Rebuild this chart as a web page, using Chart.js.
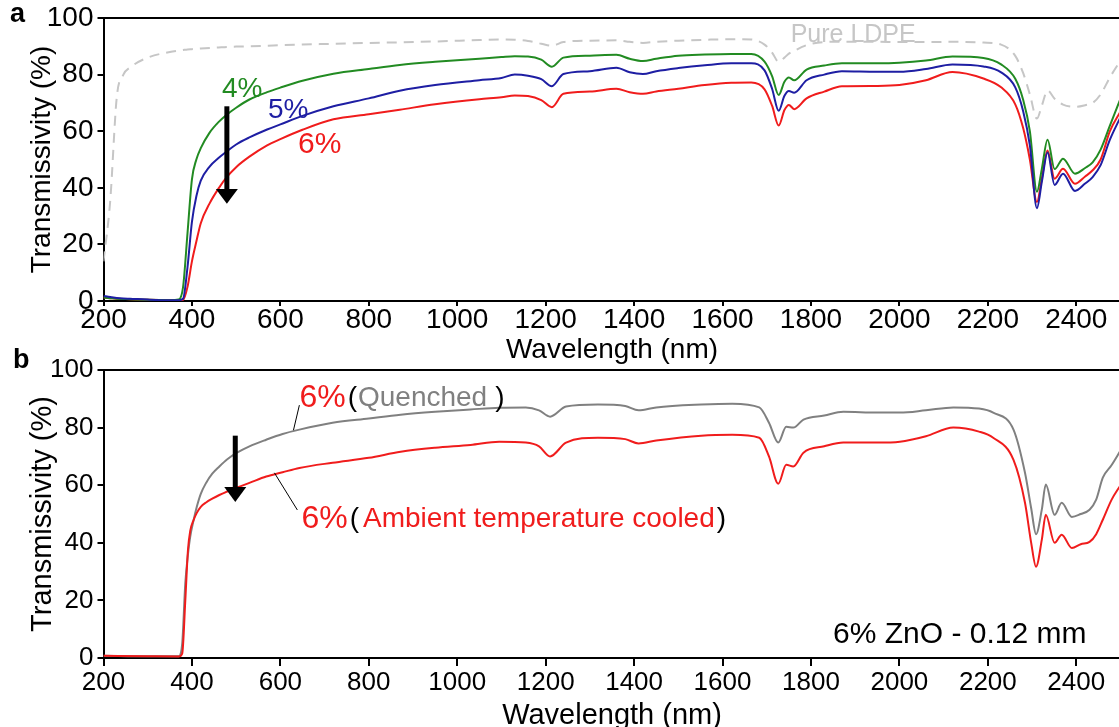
<!DOCTYPE html>
<html>
<head>
<meta charset="utf-8">
<title>Transmissivity of ZnO / LDPE films</title>
<script src="https://cdn.jsdelivr.net/npm/chart.js@4.4.1/dist/chart.umd.min.js"></script>
<style>
  html, body { margin: 0; padding: 0; background: #fff; overflow: hidden; }
  body { width: 1119px; height: 727px; position: relative; }
  canvas { position: absolute; left: 0; }
  #panelA { top: 0; }
  #panelB { top: 345px; }
</style>
</head>
<body>
<canvas id="panelA" width="1124" height="370"></canvas>
<canvas id="panelB" width="1124" height="385"></canvas>
<script>
(function () {
  'use strict';

  const xTicks = [200, 400, 600, 800, 1000, 1200, 1400, 1600, 1800, 2000, 2200, 2400];
  const yTicks = [0, 20, 40, 60, 80, 100];

  // (a) ZnO loading series
  const waveA = [200, 215, 230, 245, 260, 300, 350, 370, 380, 390,
    400, 410, 420, 440, 460, 480, 500, 530, 570, 600,
    650, 720, 800, 870, 950, 1050, 1100, 1130, 1160, 1190,
    1214, 1240, 1300, 1360, 1390, 1420, 1450, 1500, 1560, 1620,
    1665, 1695, 1712, 1727, 1740, 1750, 1762, 1790, 1830, 1870,
    1950, 2000, 2060, 2120, 2190, 2230, 2262, 2280, 2295, 2311,
    2322, 2335, 2351, 2370, 2397, 2420, 2437, 2455, 2476, 2500];
  const pureLdpe = [14, 35, 72, 80, 82.5, 86, 88, 88.5, 88.7, 88.9,
    89, 89.1, 89.2, 89.4, 89.6, 89.8, 89.9, 90, 90.2, 90.4,
    90.6, 90.9, 91.2, 91.4, 91.7, 92.2, 92.4, 92.3, 91.9, 90.9,
    90.2, 91.5, 92, 92.1, 91.6, 91.2, 91.6, 92, 92.3, 92.5,
    92.4, 90.6, 87.8, 84.5, 86, 87.4, 88.4, 90.4, 91.5, 91.6,
    91.6, 91.5, 91.5, 91.6, 91.3, 90.6, 86.6, 80.5, 73, 64.5,
    69, 74.4, 71.5, 69.4, 68.6, 69.2, 70, 73, 79, 85];
  const zno4 = [1.2, 1, 0.8, 0.7, 0.6, 0.4, 0.3, 0.5, 5, 24,
    43, 50, 54, 59.5, 63.2, 66, 68.3, 71.2, 73.8, 75.4,
    77.8, 80.3, 82, 83.4, 84.5, 85.6, 86.2, 86.5, 86.4, 85.3,
    82.8, 86, 86.7, 87, 85.6, 84.8, 85.6, 86.7, 87.1, 87.3,
    87.3, 84.6, 79.5, 72.8, 77.5, 79, 78, 81.8, 83.2, 84,
    84, 84.2, 85, 86.4, 85.9, 83.6, 78.5, 71, 60, 38.6,
    46.6, 57, 46.6, 50.3, 45, 47, 49, 53.5, 62, 71.5];
  const zno5 = [1.8, 1.4, 1.1, 0.9, 0.8, 0.5, 0.3, 0.3, 0.8, 12,
    28, 37, 42.5, 47.5, 50.5, 53, 55.3, 57.8, 60.6, 62.4,
    65.4, 68.8, 71.6, 74.3, 76.3, 78, 78.8, 80, 79.6, 78.4,
    75.9, 80.2, 81.2, 82.4, 80.8, 80.2, 81.2, 82.3, 83.3, 84,
    84, 81.5, 75, 67.2, 72.5, 74.2, 73.6, 78, 80, 81.2,
    81, 81, 82, 83.6, 82.9, 80.8, 75.5, 67, 55, 32.8,
    42, 52.5, 41, 45, 38.9, 41.5, 43.8, 48, 57, 65];
  const zno6 = [1.2, 1, 0.8, 0.7, 0.6, 0.4, 0.3, 0.2, 0.4, 5,
    14, 21, 27.5, 34.5, 39.7, 44, 47.3, 51, 55, 57.2,
    60.5, 64.2, 66, 67.6, 69.5, 71.3, 72, 72.6, 72.4, 71,
    68.5, 73.2, 74, 75, 73.8, 73.2, 74, 75, 76.3, 77.1,
    77.2, 74.8, 69, 62, 67.5, 69.3, 67.8, 71.6, 74, 75.9,
    76, 76.3, 78, 80.9, 78.6, 75.5, 69.5, 61, 50, 35,
    43.2, 53.2, 43.2, 46.7, 41.4, 44, 46.2, 50, 60, 67];

  // (b) 6% ZnO, 0.12 mm: quenched vs. ambient cooled
  const waveB = [200, 300, 370, 378, 385, 391, 396, 404, 411, 420,
    432, 446, 462, 480, 502, 530, 568, 605, 643, 718,
    800, 872, 950, 1030, 1095, 1155, 1185, 1210, 1246, 1318,
    1380, 1410, 1450, 1552, 1622, 1683, 1705, 1726, 1744, 1760,
    1783, 1830, 1873, 1950, 2001, 2060, 2122, 2180, 2212, 2258,
    2284, 2298, 2309, 2322, 2331, 2351, 2367, 2390, 2410, 2430,
    2445, 2460, 2480, 2500];
  const quenched = [0.8, 0.6, 0.6, 5, 26, 36, 42, 48, 52.5, 57,
    60.8, 64, 66.5, 69, 71.3, 73.5, 75.8, 77.8, 79.3, 81.7,
    83.2, 84.5, 85.5, 86.3, 86.9, 87, 86, 83.8, 87.3, 88,
    87.5, 86, 87, 88, 88.3, 87, 81.7, 74.8, 80.3, 80,
    82.8, 84.2, 85.5, 85.2, 85.2, 86, 87, 86.6, 85.2, 79.3,
    64.3, 52, 43, 51.5, 60.2, 49.7, 53.9, 49, 50, 51.5,
    55, 62.6, 67, 72];
  const ambient = [0.8, 0.6, 0.5, 1.5, 20, 37.5, 44, 48, 50.4, 52.5,
    54, 55.3, 56.6, 57.8, 59.2, 60.8, 63, 64.5, 66, 67.8,
    69.5, 71.6, 73, 74, 75.1, 74.8, 73.5, 70, 74.8, 76.5,
    76, 74.5, 75.5, 77.2, 77.5, 76.5, 70, 60.5, 67.1, 66.5,
    71.3, 73.5, 74.8, 74.8, 75.1, 77, 80, 78.6, 76.5, 68.8,
    53.9, 40, 31.7, 41, 49.7, 40, 42.8, 38.2, 39.5, 40.3,
    43, 48, 55, 60];

  const FONT = "'Liberation Sans', Arial, sans-serif";
  const GREEN = '#228b22';
  const BLUE = '#1e1ea3';
  const RED = '#f01c1c';
  const GREY = '#808080';
  const LIGHT = '#c6c6c6';

  function points(xs, ys) {
    return xs.map((x, i) => ({ x: x, y: ys[i] }));
  }

  function series(label, xs, ys, color, dash) {
    return {
      label: label,
      data: points(xs, ys),
      borderColor: color,
      borderWidth: 2,
      borderDash: dash || [],
      pointRadius: 0,
      fill: false,
      tension: 0.35,
      cubicInterpolationMode: 'monotone'
    };
  }

  // text, arrows and leader lines placed in data coordinates
  const notesPlugin = {
    id: 'notes',
    afterDatasetsDraw(chart, args, opts) {
      const ctx = chart.ctx;
      const sx = chart.scales.x;
      const sy = chart.scales.y;
      const px = v => sx.getPixelForValue(v);
      const py = v => sy.getPixelForValue(v);
      ctx.save();

      (opts.leaders || []).forEach(l => {
        ctx.strokeStyle = '#000';
        ctx.lineWidth = 1;
        ctx.beginPath();
        ctx.moveTo(px(l.from[0]), py(l.from[1]));
        ctx.lineTo(px(l.to[0]), py(l.to[1]));
        ctx.stroke();
      });

      (opts.arrows || []).forEach(a => {
        const x = px(a.x);
        const top = py(a.top);
        const base = py(a.base);
        const tip = py(a.tip);
        ctx.strokeStyle = '#000';
        ctx.fillStyle = '#000';
        ctx.lineWidth = 5;
        ctx.beginPath();
        ctx.moveTo(x, top);
        ctx.lineTo(x, base + 1);
        ctx.stroke();
        ctx.beginPath();
        ctx.moveTo(x - 11, base);
        ctx.lineTo(x + 11, base);
        ctx.lineTo(x, tip);
        ctx.closePath();
        ctx.fill();
      });

      ctx.textBaseline = 'middle';
      ctx.textAlign = 'left';
      (opts.labels || []).forEach(l => {
        let x = px(l.at[0]);
        const y = py(l.at[1]);
        l.parts.forEach(p => {
          ctx.font = p.size + 'px ' + FONT;
          ctx.fillStyle = p.color;
          ctx.fillText(p.text, x, y);
          x += ctx.measureText(p.text).width + (p.gap || 0);
        });
      });

      if (opts.panel) {
        ctx.font = 'bold 27px ' + FONT;
        ctx.fillStyle = '#000';
        ctx.textBaseline = 'alphabetic';
        ctx.fillText(opts.panel.text, opts.panel.x, opts.panel.y);
      }
      ctx.restore();
    }
  };

  function makeOptions(cfg) {
    return {
      responsive: false,
      devicePixelRatio: 1,
      animation: false,
      events: [],
      layout: { padding: { top: cfg.top, right: 3.5, bottom: 0, left: 0 } },
      plugins: {
        legend: { display: false },
        tooltip: { enabled: false },
        notes: cfg.notes
      },
      scales: {
        x: {
          type: 'linear',
          position: 'bottom',
          min: 200,
          max: 2500,
          afterBuildTicks: s => { s.ticks = xTicks.map(v => ({ value: v })); },
          afterFit: s => { s.height = cfg.xHeight; },
          border: { display: true, color: '#000', width: 2 },
          grid: { drawOnChartArea: false, drawTicks: true, tickLength: cfg.xTick, color: '#000', lineWidth: 2 },
          ticks: {
            autoSkip: false,
            maxRotation: 0,
            padding: cfg.xPad,
            color: '#000',
            font: { family: FONT, size: cfg.tickSize, lineHeight: 1 },
            callback: v => String(v)
          },
          title: {
            display: true,
            text: 'Wavelength (nm)',
            color: '#000',
            font: { family: FONT, size: cfg.titleSize, lineHeight: 1 },
            padding: { top: 0, bottom: cfg.xTitlePad }
          }
        },
        top: {
          type: 'linear',
          position: 'top',
          min: 200,
          max: 2500,
          afterFit: s => { s.height = 0; },
          border: { display: true, color: '#000', width: 2 },
          grid: { drawOnChartArea: false, drawTicks: false },
          ticks: { display: false }
        },
        y: {
          min: 0,
          max: 100,
          afterBuildTicks: s => { s.ticks = yTicks.map(v => ({ value: v })); },
          afterFit: s => { s.width = 103.5; },
          border: { display: true, color: '#000', width: 2 },
          grid: { drawOnChartArea: false, drawTicks: true, tickLength: 6, color: '#000', lineWidth: 2 },
          ticks: {
            padding: 4,
            color: '#000',
            font: { family: FONT, size: cfg.tickSize, lineHeight: 1 },
            callback: v => String(v)
          },
          title: {
            display: true,
            text: 'Transmissivity (%)',
            color: '#000',
            font: { family: FONT, size: cfg.titleSize, lineHeight: 1 },
            padding: { top: 28, bottom: 0 }
          }
        }
      }
    };
  }

  new Chart(document.getElementById('panelA'), {
    type: 'line',
    data: {
      datasets: [
        series('5%', waveA, zno5, BLUE),
        series('4%', waveA, zno4, GREEN),
        series('6%', waveA, zno6, RED),
        series('Pure LDPE', waveA, pureLdpe, LIGHT, [10, 7])
      ]
    },
    options: makeOptions({
      top: 13, xHeight: 69, xTick: 5, xPad: 0, xTitlePad: 6,
      tickSize: 28, titleSize: 28,
      notes: {
        panel: { text: 'a', x: 10, y: 22 },
        arrows: [{ x: 479, top: 68.8, base: 39.6, tip: 34.4 }],
        labels: [
          { at: [468, 74.7], parts: [{ text: '4%', color: GREEN, size: 28 }] },
          { at: [572, 67.5], parts: [{ text: '5%', color: BLUE, size: 28 }] },
          { at: [640, 55.2], parts: [{ text: '6%', color: RED, size: 30 }] },
          { at: [1754, 93.8], parts: [{ text: 'Pure LDPE', color: LIGHT, size: 25 }] }
        ]
      }
    }),
    plugins: [notesPlugin]
  });

  new Chart(document.getElementById('panelB'), {
    type: 'line',
    data: {
      datasets: [
        series('6% (Ambient temperature cooled)', waveB, ambient, RED),
        series('6% (Quenched)', waveB, quenched, GREY)
      ]
    },
    options: makeOptions({
      top: 25, xHeight: 72, xTick: 8, xPad: 4, xTitlePad: 0,
      tickSize: 26, titleSize: 29,
      notes: {
        panel: { text: 'b', x: 13, y: 23 },
        arrows: [{ x: 498, top: 77.2, base: 59.4, tip: 54.2 }],
        leaders: [
          { from: [643, 87.8], to: [629.6, 79.1] },
          { from: [586.5, 64.3], to: [638.4, 51.4] }
        ],
        labels: [
          { at: [643, 90.2], parts: [
            { text: '6%', color: RED, size: 32, gap: 2 },
            { text: '(', color: '#000', size: 28, gap: 1 },
            { text: 'Quenched', color: GREY, size: 28, gap: 8 },
            { text: ')', color: '#000', size: 28 }
          ] },
          { at: [647.6, 48.3], parts: [
            { text: '6%', color: RED, size: 32, gap: 2 },
            { text: '(', color: '#000', size: 28, gap: 4 },
            { text: 'Ambient temperature cooled', color: RED, size: 28, gap: 2 },
            { text: ')', color: '#000', size: 28 }
          ] },
          { at: [1850, 8.2], parts: [{ text: '6% ZnO - 0.12 mm', color: '#000', size: 30 }] }
        ]
      }
    }),
    plugins: [notesPlugin]
  });
})();
</script>
</body>
</html>
